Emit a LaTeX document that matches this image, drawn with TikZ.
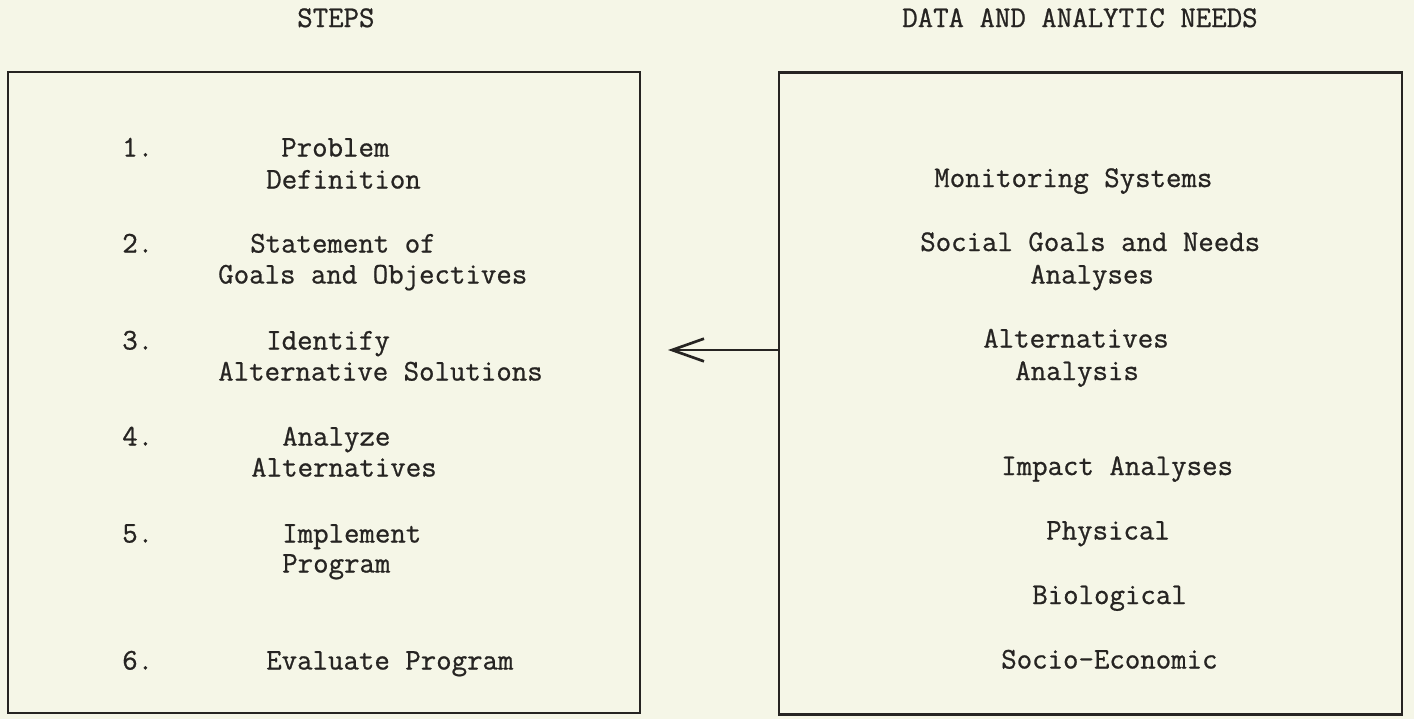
\documentclass[tikz,border=0pt]{standalone}
\usepackage{fontspec}
\setmonofont[FakeBold=0.8]{Latin Modern Mono}
\usetikzlibrary{arrows.meta}
\definecolor{paper}{RGB}{245,246,231}
\definecolor{ink}{RGB}{38,36,34}
\tikzset{
  txt/.style={inner sep=0pt, anchor=base west, text=ink,
    font=\ttfamily\fontsize{22.5}{26}\selectfont},
  panel/.style={draw=ink, line width=2pt, inner sep=0pt},
  flow/.style={draw=ink, line width=2pt,
    -{Straight Barb[length=24pt, width=17pt, line width=2pt]}}
}
\begin{document}
\begin{tikzpicture}[x=0.75pt, y=-0.75pt]
\fill[paper] (0,0) rectangle (1414,719);
\useasboundingbox (0,0) rectangle (1414,719);

% headers
\node[txt] (hsteps) at (297,27) {STEPS};
\node[txt] (hdata) at (902,27) {DATA AND ANALYTIC NEEDS};

% boxes
\node[panel, minimum width=474pt, minimum height=480.75pt] (L) at (324,392.5) {};
\node[panel, minimum width=467.25pt, minimum height=481.5pt] (R) at (1090.5,393.8) {};

% left column
\node[txt] (n1) at (122,156.5) {1.};
\node[txt] (s1a) at (281,156.5) {Problem};
\node[txt] (s1b) at (266,188.5) {Definition};
\node[txt] (n2) at (122,252.5) {2.};
\node[txt] (s2a) at (250,252.5) {Statement of};
\node[txt] (s2b) at (218,283.5) {Goals and Objectives};
\node[txt] (n3) at (122,349.5) {3.};
\node[txt] (s3a) at (266,349.5) {Identify};
\node[txt] (s3b) at (218,380.5) {Alternative Solutions};
\node[txt] (n4) at (122,445.5) {4.};
\node[txt] (s4a) at (282,445.5) {Analyze};
\node[txt] (s4b) at (251,476.5) {Alternatives};
\node[txt] (n5) at (122,542.5) {5.};
\node[txt] (s5a) at (282,542.5) {Implement};
\node[txt] (s5b) at (282,572.5) {Program};
\node[txt] (n6) at (122,669.5) {6.};
\node[txt] (s6a) at (266,669.5) {Evaluate Program};

% right column
\node[txt] (d1) at (934,187) {Monitoring Systems};
\node[txt] (d2a) at (920,251) {Social Goals and Needs};
\node[txt] (d2b) at (1030,283.5) {Analyses};
\node[txt] (d3a) at (983,347.5) {Alternatives};
\node[txt] (d3b) at (1015,380) {Analysis};
\node[txt] (d4) at (1001,475) {Impact Analyses};
\node[txt] (d5) at (1046,539.5) {Physical};
\node[txt] (d6) at (1032,604) {Biological};
\node[txt] (d7) at (1001,668.5) {Socio-Economic};

% arrow
\coordinate (tip) at (668,350);
\draw[flow] (tip -| R.west) -- (tip);
\end{tikzpicture}
\end{document}
